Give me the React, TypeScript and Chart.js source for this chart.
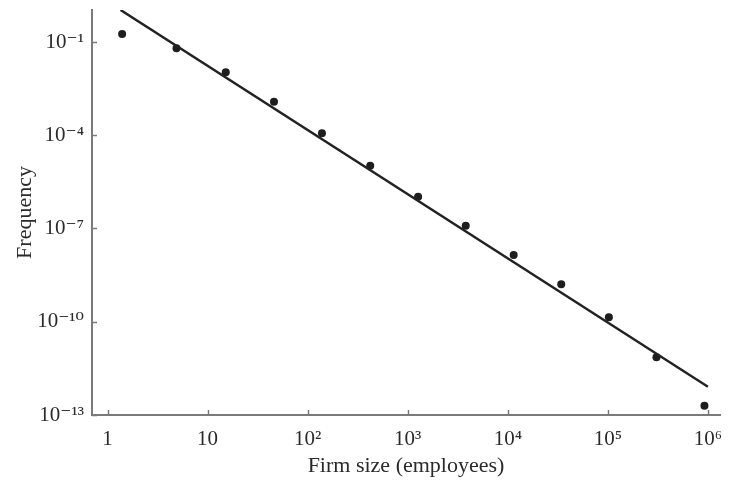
import React, { useEffect, useRef } from "react";
import { Chart, registerables } from "chart.js";

Chart.register(...registerables);

// Data (log-log firm size distribution)
const firmSize = [1.4, 4.89, 15.2, 46.1, 139, 422, 1270, 3800, 11450, 34200, 102300, 306000, 923000];
const frequency = [
  0.1807, 0.0627, 0.01059, 0.0012, 1.153e-4, 1.047e-5, 1.054e-6, 1.227e-7, 1.403e-8, 1.611e-9,
  1.387e-10, 7.16e-12, 1.99e-13,
];
// fitted power-law line end points
const fitX = [1.35, 1.0e6];
const fitY = [1.07, 8.1e-13];

const xTickValues = [1, 10, 100, 1000, 10000, 100000, 1000000];
const xTickLabels = ["1", "10", "10²", "10³", "10⁴", "10⁵", "10⁶"];
const yTickValues = [1e-1, 1e-4, 1e-7, 1e-10, 1e-13];
const yTickLabels = ["10⁻¹", "10⁻⁴", "10⁻⁷", "10⁻¹⁰", "10⁻¹³"];

const FONT_FAMILY = "'Liberation Serif', 'DejaVu Serif', serif";
const TEXT_COLOR = "#2a2a2a";
const AXIS_COLOR = "#7a7a7a";

const innerTicks = {
  id: "innerTicks",
  afterDraw(chart: any) {
    const { ctx, chartArea, scales } = chart;
    ctx.save();
    ctx.strokeStyle = AXIS_COLOR;
    ctx.lineWidth = 1.5;
    const xs = scales.x;
    xTickValues.forEach((v) => {
      const px = Math.round(xs.getPixelForValue(v)) + 0.5;
      ctx.beginPath();
      ctx.moveTo(px, chartArea.bottom);
      ctx.lineTo(px, chartArea.bottom - 5);
      ctx.stroke();
    });
    const ys = scales.y;
    yTickValues.forEach((v) => {
      const py = Math.round(ys.getPixelForValue(v)) + 0.5;
      ctx.beginPath();
      ctx.moveTo(chartArea.left, py);
      ctx.lineTo(chartArea.left + 5, py);
      ctx.stroke();
    });
    ctx.restore();
  },
};

export default function App() {
  const canvasRef = useRef<HTMLCanvasElement | null>(null);

  useEffect(() => {
    if (!canvasRef.current) return;
    const chart = new Chart(canvasRef.current, {
      type: "scatter",
      data: {
        datasets: [
          {
            label: "Fit",
            data: fitX.map((x, i) => ({ x, y: fitY[i] })),
            showLine: true,
            borderColor: "#222222",
            borderWidth: 2.5,
            pointRadius: 0,
            fill: false,
          },
          {
            label: "Firms",
            data: firmSize.map((x, i) => ({ x, y: frequency[i] })),
            backgroundColor: "#1e1e1e",
            borderColor: "#1e1e1e",
            pointRadius: 4,
            pointBorderWidth: 0,
            showLine: false,
          },
        ],
      },
      options: {
        animation: false,
        responsive: true,
        maintainAspectRatio: false,
        layout: { padding: { top: 10, right: 9, left: 0, bottom: 0 } },
        plugins: {
          legend: { display: false },
          tooltip: { enabled: false },
        },
        scales: {
          x: {
            type: "logarithmic",
            position: "bottom",
            min: 0.708,
            max: 1.32e6,
            afterBuildTicks: (s: any) => {
              s.ticks = xTickValues.map((v) => ({ value: v }));
            },
            afterFit: (s: any) => {
              s.height = 65;
              s.paddingLeft = 0;
              s.paddingRight = 0;
            },
            grid: { display: false, drawTicks: false },
            border: { display: true, color: AXIS_COLOR, width: 2 },
            ticks: {
              autoSkip: false,
              maxRotation: 0,
              padding: 12,
              color: TEXT_COLOR,
              font: { family: FONT_FAMILY, size: 21 },
              callback: (v: any) => {
                const i = xTickValues.findIndex((t) => Math.abs(Math.log10(t) - Math.log10(Number(v))) < 1e-6);
                return i >= 0 ? xTickLabels[i] : "";
              },
            },
            title: {
              display: true,
              text: "Firm size (employees)",
              color: TEXT_COLOR,
              font: { family: FONT_FAMILY, size: 22 },
              padding: { top: 0, bottom: 1 },
            },
          },
          y: {
            type: "logarithmic",
            position: "left",
            min: 1e-13,
            max: 1.07,
            afterBuildTicks: (s: any) => {
              s.ticks = yTickValues.map((v) => ({ value: v }));
            },
            afterFit: (s: any) => {
              s.width = 92;
              s.paddingTop = 0;
              s.paddingBottom = 0;
            },
            grid: { display: false, drawTicks: false },
            border: { display: true, color: AXIS_COLOR, width: 2 },
            ticks: {
              autoSkip: false,
              padding: 8,
              color: TEXT_COLOR,
              font: { family: FONT_FAMILY, size: 21 },
              callback: (v: any) => {
                const i = yTickValues.findIndex((t) => Math.abs(Math.log10(t) - Math.log10(Number(v))) < 1e-6);
                return i >= 0 ? yTickLabels[i] : "";
              },
            },
            title: {
              display: true,
              text: "Frequency",
              color: TEXT_COLOR,
              font: { family: FONT_FAMILY, size: 22 },
              padding: { top: 12, bottom: 0 },
            },
          },
        },
      },
      plugins: [innerTicks],
    });
    return () => chart.destroy();
  }, []);

  return (
    <div style={{ position: "fixed", left: 0, top: 0, width: 729, height: 480, background: "#ffffff" }}>
      <canvas ref={canvasRef} />
    </div>
  );
}
